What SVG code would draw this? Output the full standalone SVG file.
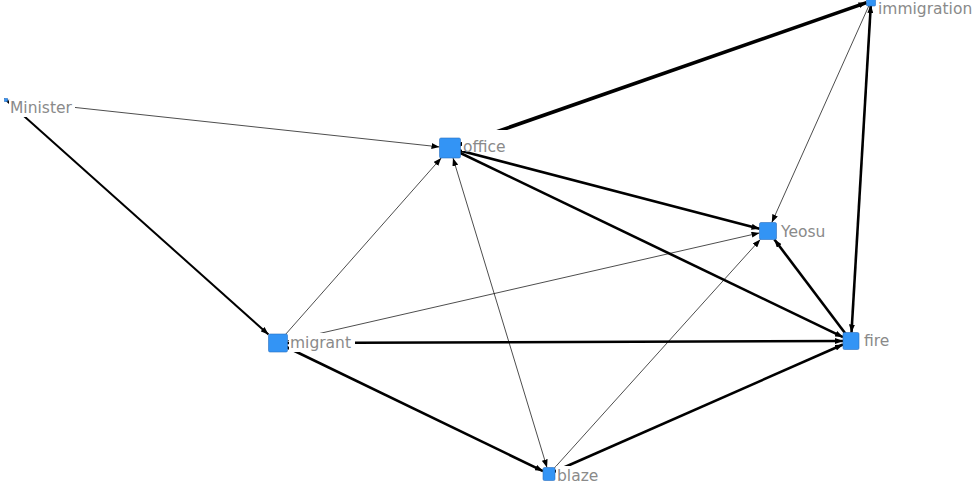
<svg xmlns="http://www.w3.org/2000/svg" width="973" height="486" viewBox="0 0 973 486">
<style>
.e{stroke:#000;fill:none;stroke-linecap:butt}
.t1{stroke-width:0.7}
.t2{stroke-width:2}
.t3{stroke-width:2.6}
.t4{stroke-width:3.6}
.n{fill:#3394f5;stroke:#2a6fc0;stroke-width:0.6}
.bg{fill:#fff}
.lb{font-family:"DejaVu Sans",Verdana,sans-serif;font-size:15.5px;fill:#8a8a8a}
</style>
<defs>
<marker id="a" viewBox="0 0 8 6" refX="8" refY="3" markerWidth="8" markerHeight="6" markerUnits="userSpaceOnUse" orient="auto-start-reverse">
<path d="M0,0 L8,3 L0,6 Z" fill="#000"/>
</marker>
</defs>
<rect width="973" height="486" fill="#fff"/>
<g id="connectors">
<line class="e t1" x1="6" y1="100" x2="439.5" y2="146.9" marker-end="url(#a)"/>
<line class="e t2" x1="6" y1="100" x2="268.5" y2="334.5" marker-end="url(#a)"/>
<line class="e t4" x1="450" y1="148" x2="866.5" y2="2.6" marker-end="url(#a)"/>
<line class="e t3" x1="450" y1="148" x2="759.5" y2="228.8" marker-end="url(#a)"/>
<line class="e t3" x1="450" y1="148" x2="843" y2="337.1" marker-end="url(#a)"/>
<line class="e t1" x1="285.9" y1="334" x2="441.2" y2="158" marker-end="url(#a)"/>
<line class="e t1" x1="453" y1="158" x2="547" y2="467.5" marker-start="url(#a)" marker-end="url(#a)"/>
<line class="e t1" x1="287.5" y1="340.8" x2="759.5" y2="232.9" marker-end="url(#a)"/>
<line class="e t3" x1="278" y1="343" x2="843" y2="341" marker-end="url(#a)"/>
<line class="e t3" x1="278" y1="343" x2="543" y2="471.1" marker-end="url(#a)"/>
<line class="e t1" x1="549" y1="474" x2="760.3" y2="239.5" marker-end="url(#a)"/>
<line class="e t3" x1="549" y1="474" x2="843" y2="344.5" marker-end="url(#a)"/>
<line class="e t3" x1="851" y1="341" x2="774.4" y2="239.5" marker-end="url(#a)"/>
<line class="e t3" x1="851.5" y1="332.5" x2="870.8" y2="5" marker-start="url(#a)" marker-end="url(#a)"/>
<line class="e t1" x1="871" y1="1" x2="771.8" y2="222.5" marker-end="url(#a)"/>
</g>
<g id="node-Minister">
<rect class="bg" x="9" y="100" width="66" height="17"/>
<rect class="n" x="4.5" y="98.5" width="3" height="3"/>
<text class="lb" x="10" y="113">Minister</text>
</g>
<g id="node-office">
<rect class="bg" x="462" y="130" width="50" height="21"/>
<rect class="n" x="439.5" y="138" width="21" height="20" rx="1.5"/>
<text class="lb" x="463" y="152">office</text>
</g>
<g id="node-Yeosu">
<rect class="bg" x="780" y="222" width="50" height="19"/>
<rect class="n" x="759.5" y="222.5" width="17" height="17" rx="1.5"/>
<text class="lb" x="781" y="237">Yeosu</text>
</g>
<g id="node-fire">
<rect class="bg" x="863" y="331" width="28" height="19"/>
<rect class="n" x="843" y="332.5" width="16" height="17" rx="1.5"/>
<text class="lb" x="864" y="346">fire</text>
</g>
<g id="node-migrant">
<rect class="bg" x="289" y="333" width="66" height="19"/>
<rect class="n" x="268.5" y="334" width="19" height="18" rx="1.5"/>
<text class="lb" x="290" y="348">migrant</text>
</g>
<g id="node-blaze">
<rect class="bg" x="556" y="466" width="48" height="20"/>
<rect class="n" x="543" y="467.5" width="12" height="13" rx="1.5"/>
<text class="lb" x="557" y="481">blaze</text>
</g>
<g id="node-immigration">
<rect class="bg" x="877" y="0" width="96" height="18"/>
<rect class="n" x="866.5" y="-3" width="9" height="9" rx="1"/>
<text class="lb" x="878" y="14">immigration</text>
</g>
</svg>
